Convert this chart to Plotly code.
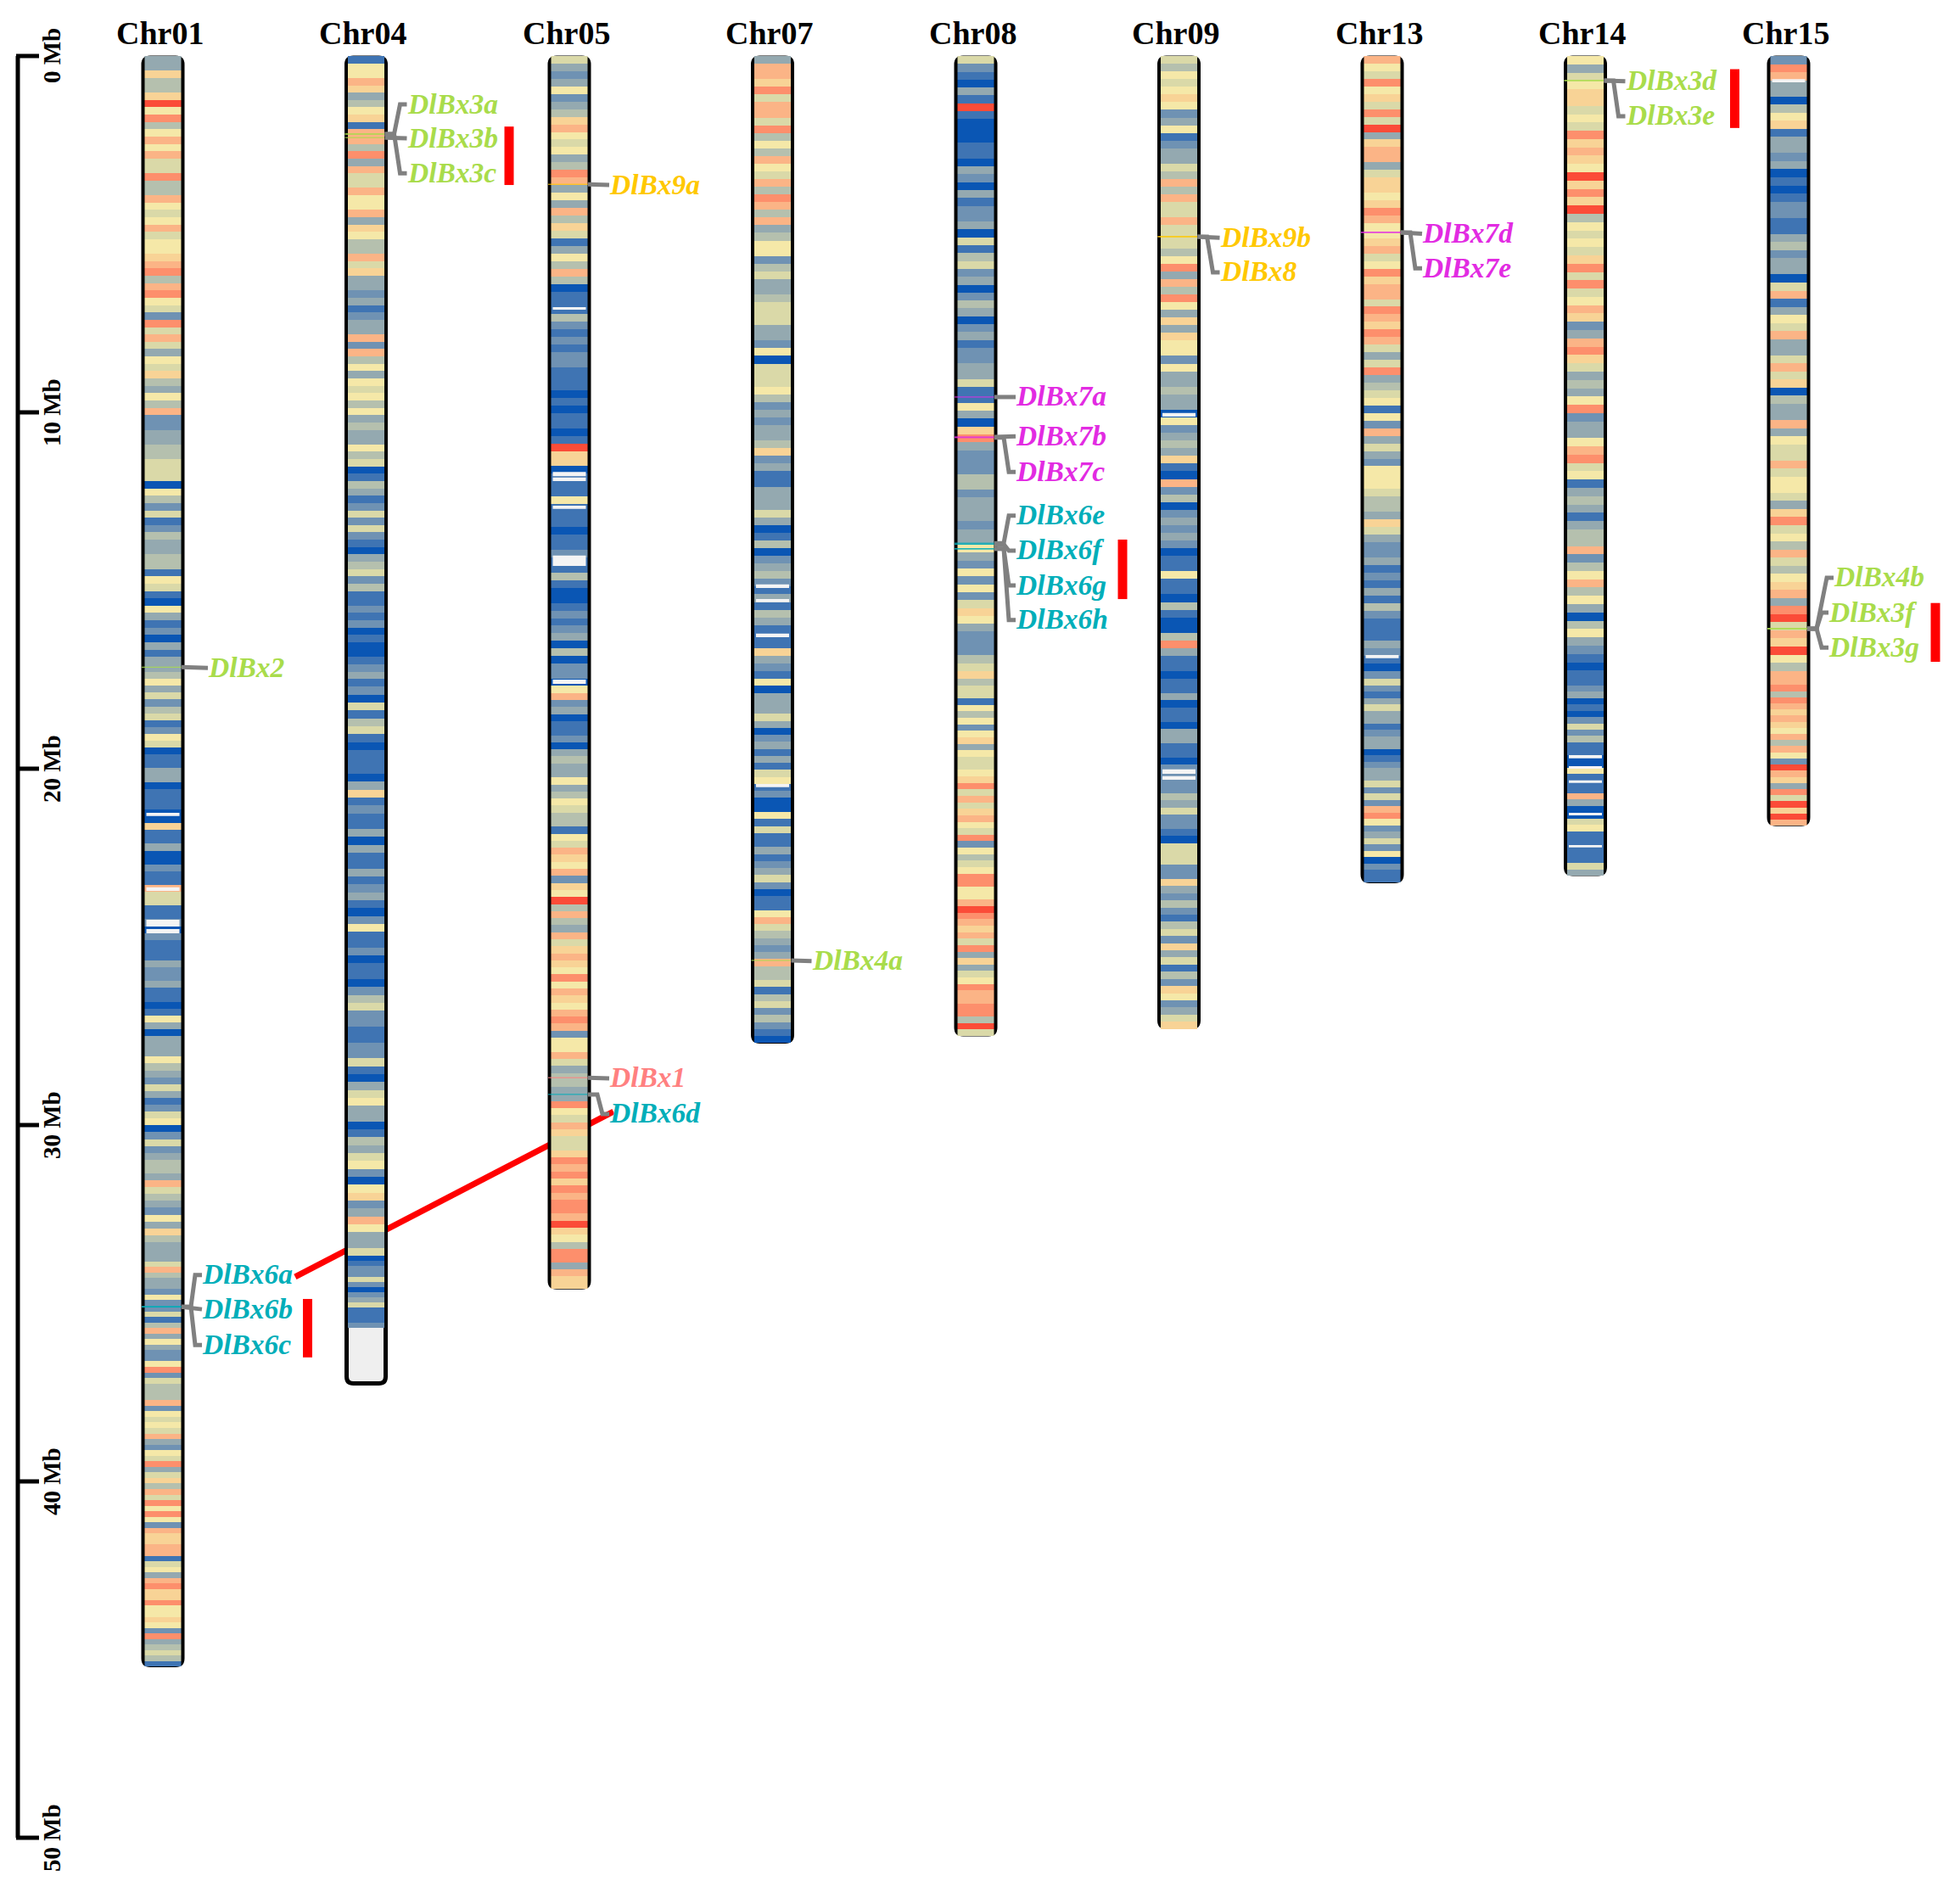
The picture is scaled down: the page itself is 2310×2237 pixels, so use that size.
import numpy as np
import plotly.graph_objects as go

chromosomes = ["Chr01","Chr04","Chr05","Chr07","Chr08","Chr09","Chr13","Chr14","Chr15"]
lengths = [45.2,37.3,34.6,27.7,27.5,27.3,23.2,23.0,21.6]
data_ends = [45.2,35.7,34.6,27.7,27.5,27.3,23.2,23.0,21.6]
break_a = 17.48
break_b = 33.67

chr01_a = [3,3,7,4,4,7,10,6,9,4,6,8,6,8,5,5,9,4,4,8,6,5,6,8,5,6,6,7,8,9,4,8,9,6,5,2,9,5,8,5,3,6,5,7,4,3,6,4,8,2,2,3,3,4,4,5,5,5,0,6,4,2,5,1,2,4,3,3,4,4,1,6,5,1,0,6,3,1,2,0,3,1,3,3,4]
chr01_b = [6,3,5,2,4,5,1,2,6,5,0,1,1,3,3,0,1,1,1,0,0,7,1,1,3,0,0,2,1,1,8,5,5,1,1,2,0,2,1,1,1,3,2,2,3,1,1,0,1,6,3,0,3,3,3,6,4,3,2,5,3,1,2,5,6,0,2,5,2,3,4,4,3,8,5,4,3,2,6,3,7,4,3,3]
chr01_c = [3,5,8,4,3,3,2,6,2,2,5,1,4,8,3,6,3,2,2,6,9,2,5,4,4,4,8,2,6,5,6,5,8,3,2,6,5,9,3,5,7,4,8,5,9,6,9,6,2,8,7,7,8,8,1,5,6,3,8,9,7,7,9,6,6,7,6,2,9,3,4,5,4,1]
chr04_a = [1,6,6,8,7,3,4,6,7,1,8,8,4,9,3,8,5,5,8,6,6,8,3,7,6,4,4,8,5,7,3,3,2,3,1,2,3,3,8,2,8,4,6,3,6,5,6,4,6,3,4,3,3,6,4,5,0,1,4,3,1,2,5,2,5,2,1,0,3,4,5,2,4,1,1,2,1,2,0,1,0,0,1,2,3]
chr04_b = [1,2,0,5,1,4,5,1,0,1,1,1,0,3,7,1,2,1,1,3,0,3,1,1,3,1,2,3,1,0,2,6,1,1,2,0,1,1,0,2,4,5,2,2,1,1,2,2,5,1,0,3,5,6,3,3,0,1,4,3,5,6,2,0,6,7,2,3,8,6,3,3,5]
chr04_c = [0,1,2,2,5,2,0,2,3,5,1,1,1,2]
chr05_a = [5,3,2,3,6,2,3,4,7,8,6,5,6,3,4,9,8,3,6,3,8,4,7,5,1,3,6,4,8,4,0,1,1,1,4,2,1,2,1,2,2,1,1,1,0,1,0,1,1,0,1,10,7,7,0,1,1,1,6,1,1,1,0,1,1,2,1,1,4,1,0,0,1,2,1,2,3,0,4,0,2,2]
chr05_b = [0,6,8,2,3,0,1,1,2,0,3,4,3,3,6,3,4,6,5,4,4,1,6,5,8,7,6,8,2,7,6,10,4,8,4,3,8,5,7,8,7,6,9,6,8,7,6,8,9,8,2,6,6,8,5,3,4,4,3,3,9,6,5,8,7,5,5,7,9,8,9,7,9,8,9,9,8,10,7,6,4,9]
chr05_c = [9,3,8,7,7]
chr07_a = [3,8,8,7,9,5,8,8,5,9,4,6,4,8,6,5,8,4,9,8,4,8,3,4,6,6,2,4,5,3,3,4,5,5,5,3,3,2,6,0,5,5,5,6,4,2,3,2,3,3,4,7,2,3,1,1,3,3,3,5,3,0,1,4,0,2,3,4,2,1,3,1,4,3,1,1,1,7,3,2,1]
chr07_b = [6,0,3,3,3,5,3,0,2,3,1,3,1,5,6,1,2,0,0,6,1,5,1,1,3,1,2,3,5,2,0,1,1,6,8,5,4,3,2,3,8,4,4,5,1,4,5,2,4,2,1,0]
chr08_a = [5,2,1,0,3,1,10,1,0,0,0,1,1,0,3,2,0,3,1,2,2,3,0,5,1,4,5,2,3,0,2,4,3,0,2,3,1,2,2,3,3,5,1,1,6,3,0,7,9,3,2,2,2,4,4,2,3,3,3,2,3,3,6,3,2,6,2,6,2,5,7,6,3,2,2,2,4,5,7]
chr08_b = [4,5,5,1,6,4,6,2,6,7,3,6,5,5,6,7,9,5,8,5,7,8,6,5,9,2,6,4,5,6,9,9,6,6,8,10,9,8,7,8,5,9,3,7,3,5,6,9,8,8,9,9,4,10,5]
chr09_a = [5,4,6,5,6,7,6,2,3,6,1,2,3,3,5,4,8,4,8,5,5,8,5,5,5,4,6,9,3,8,4,9,6,3,7,3,7,6,6,2,6,3,3,4,3,3,0,6,2,3,4,3,7,1,0,8,2,4,0,2,3,2,3,2,0,1,1,6,1,1,0,4,1,0,0,4,9,3,1,1,0]
chr09_b = [1,1,3,0,1,1,0,3,3,1,1,0,2,2,2,2,4,3,5,2,2,1,0,5,5,5,2,2,7,3,2,4,2,1,4,5,2,7,3,5,1,4,2,7,6,2,3,5,7]
chr13_a = [8,6,5,9,6,7,5,9,5,10,3,7,8,8,3,5,7,7,6,7,9,8,6,6,7,8,5,6,9,7,8,8,5,9,8,7,9,8,5,3,5,9,3,4,5,6,1,6,2,8,3,5,3,2,6,6,6,5,4,4,3,7,5,3,2,2,3,1,2,1,3,1,4,2,1,1,1,3,2,1,0,2]
chr13_b = [5,2,1,3,5,3,3,1,2,3,3,0,1,2,3,3,5,2,5,2,8,9,6,2,3,5,2,6,0,2,1,1]
chr14_a = [6,3,5,6,7,7,5,6,5,9,7,8,7,6,10,7,9,7,10,4,6,5,6,5,7,9,5,9,5,6,8,7,2,3,8,9,7,5,3,4,3,6,9,2,3,3,6,8,9,5,6,1,3,4,3,1,3,4,4,8,2,4,6,8,4,6,3,0,4,6,3,2,1,0,1]
chr14_b = [1,2,3,0,1,0,2,5,2,4,1,1,0,0,6,1,1,1,8,3,0,0,5,6,1,1,1,1,1,5,3]
chr15_a = [2,9,8,3,3,0,4,6,7,1,3,3,2,3,0,1,0,1,2,2,1,1,3,4,2,3,3,0,5,8,1,3,6,5,8,3,3,5,8,5,7,0,4,3,3,8,3,6,5,5,8,5,6,6,5,3,7,9,5,6,4,8,5,4,6,7,8,3,9,10,5,8,7,10,6,4,8]
chr15_b = [8,9,4,9,8,7,8,7,6,8,4,8,6,2,10,8,7,3,9,5,10,7,10,8]

segments = [
    [chr01_a,chr01_b,chr01_c],[chr04_a,chr04_b,chr04_c],[chr05_a,chr05_b,chr05_c],
    [chr07_a,chr07_b],[chr08_a,chr08_b],[chr09_a,chr09_b],
    [chr13_a,chr13_b],[chr14_a,chr14_b],[chr15_a,chr15_b],
]

gap_chr = [0,0,0,0, 2,2,2,2,2,2, 3,3,3,3, 5,5,5, 6, 7,7,7,7,7, 8]
gap_start = [21.24,23.33,24.24,24.5, 7.05,11.67,11.83,12.62,14.02,17.5, 14.83,15.24,16.21,20.43, 10.02,20.02,20.21, 16.81, 19.62,19.93,20.33,21.24,22.14, 0.65]
gap_end = [21.33,23.43,24.43,24.62, 7.12,11.79,11.93,12.71,14.31,17.62, 14.93,15.33,16.31,20.52, 10.12,20.14,20.31, 16.9, 19.71,20.0,20.4,21.31,22.21, 0.74]

gene_names = ["DlBx2","DlBx6a","DlBx6b","DlBx6c","DlBx3a","DlBx3b","DlBx3c","DlBx9a","DlBx1","DlBx6d","DlBx4a",
              "DlBx7a","DlBx7b","DlBx7c","DlBx6e","DlBx6f","DlBx6g","DlBx6h","DlBx9b","DlBx8","DlBx7d","DlBx7e",
              "DlBx3d","DlBx3e","DlBx4b","DlBx3f","DlBx3g"]
gene_chr = [0,0,0,0,1,1,1,2,2,2,3,4,4,4,4,4,4,4,5,5,6,6,7,7,8,8,8]
gene_mb = [17.15,35.1,35.1,35.1,2.19,2.29,2.19,3.6,28.67,29.14,25.38,9.57,10.69,10.71,13.67,13.7,13.83,13.83,5.07,5.07,4.95,4.95,0.69,0.69,16.07,16.07,16.07]
label_mb = [17.17,34.21,35.17,36.17,1.36,2.31,3.29,3.62,28.69,29.69,25.4,9.57,10.67,11.67,12.9,13.88,14.86,15.83,5.1,6.07,4.99,5.96,0.71,1.69,14.64,15.62,16.6]
gene_colors = ["#A9DC4B","#00AEB9","#00AEB9","#00AEB9","#A9DC4B","#A9DC4B","#A9DC4B","#FFC800","#FF8080","#00AEB9","#A9DC4B",
               "#E22BE2","#E22BE2","#E22BE2","#00AEB9","#00AEB9","#00AEB9","#00AEB9","#FFC800","#FFC800","#E22BE2","#E22BE2",
               "#A9DC4B","#A9DC4B","#A9DC4B","#A9DC4B","#A9DC4B"]
label_offset = [30,23,23,23,25,25,25,24,24,24,23,24,24,24,24,24,24,24,25,25,24,24,24,24,30,24,24]

tandem_chr = [0,1,4,7,8]
tandem_offset_px = [170.5,168.5,173,176,173]
tandem_top = [34.88,1.98,13.57,0.37,15.35]
tandem_bottom = [36.52,3.62,15.24,2.02,17.0]
segdup_x = [0.651,2.217]
segdup_mb = [34.26,29.62]

tick_mb = [0,10,20,30,40,50]
tick_labels = ["%d Mb"%v for v in tick_mb]

palette = ["#0A56B4","#3F74B3","#6F92B3","#94A9B0","#B5C0AE","#DAD9A8","#F5E8A8","#F8D396","#FBB486","#FD8F6C","#FB4C38"]

W, H = 2310, 2237
X0, SP = 192.0, 239.5
TOP, PXMB = 66.0, 42.0
px = lambda p: p / SP
abs_x = lambda p: (p - X0) / SP

cs = []
for i, c in enumerate(palette):
    cs += [[i/len(palette), c], [(i+1)/len(palette), c]]

fig = go.Figure()
shapes = [dict(type="line", xref="x", yref="y", x0=segdup_x[0], x1=segdup_x[1], y0=segdup_mb[0], y1=segdup_mb[1],
               line=dict(color="#FF0000", width=7), layer="below")]
r = 8.0
inset = 2.0 / PXMB
for i, name in enumerate(chromosomes):
    breaks = [0, break_a, break_b, data_ends[i]] if len(segments[i]) == 3 else [0, break_a, data_ends[i]]
    edges, vals = [0.0], []
    for k, seg in enumerate(segments[i]):
        e = np.linspace(breaks[k], breaks[k+1], len(seg)+1)
        edges += list(e[1:])
        vals += seg
    hw = px(21.5)
    fig.add_trace(go.Heatmap(x=[i-hw, i+hw], y=edges, z=[[v] for v in vals], colorscale=cs, zmin=-0.5, zmax=10.5,
                             showscale=False, hoverinfo="skip"))
    o = px(23); rx = px(r); ry = r/PXMB
    T = inset; L = lengths[i] - inset
    path = (f"M{i-o},{T+ry} Q{i-o},{T} {i-o+rx},{T} L{i+o-rx},{T} Q{i+o},{T} {i+o},{T+ry} "
            f"L{i+o},{L-ry} Q{i+o},{L} {i+o-rx},{L} L{i-o+rx},{L} Q{i-o},{L} {i-o},{L-ry} Z")
    shapes.append(dict(type="path", path=path, xref="x", yref="y", fillcolor="#EFEFEF",
                       line=dict(color="black", width=5), layer="below"))
    fig.add_annotation(x=i-px(4), xref="x", y=(39-TOP)/PXMB, yref="y", text=f"<b>{name}</b>", showarrow=False,
                       xanchor="center", yanchor="middle", font=dict(family="Liberation Serif", size=38, color="black"))

for c, a, b in zip(gap_chr, gap_start, gap_end):
    shapes.append(dict(type="rect", xref="x", yref="y", x0=c-px(19.5), x1=c+px(19.5), y0=a, y1=b,
                       fillcolor="#F4F4F4", line=dict(width=0), layer="above"))

for k, n in enumerate(gene_names):
    c = gene_chr[k]; g = gene_mb[k]; l = label_mb[k]; off = label_offset[k]
    edge = c + px(25)
    fig.add_trace(go.Scatter(x=[c-px(25), c+px(21.5)], y=[g, g], mode="lines", line=dict(color=gene_colors[k], width=1),
                             hoverinfo="skip", showlegend=False))
    xs = [edge-px(3), edge+px(8), edge+px(off-10), edge+px(off-2)] if abs(g-l) > 0.1 else [edge-px(3), edge+px(off-2)]
    ys = [g, g, l, l] if abs(g-l) > 0.1 else [g, l]
    fig.add_trace(go.Scatter(x=xs, y=ys, mode="lines", line=dict(color="#808080", width=5), hoverinfo="skip", showlegend=False))
    fig.add_annotation(x=edge+px(off-4), y=l, xref="x", yref="y", yshift=1, text=f"<b><i>{n}</i></b>", showarrow=False,
                       xanchor="left", yanchor="middle", font=dict(family="Liberation Serif", size=33.5, color=gene_colors[k]))

for c, o, t, b in zip(tandem_chr, tandem_offset_px, tandem_top, tandem_bottom):
    shapes.append(dict(type="rect", xref="x", yref="y", x0=c+px(o-5.5), x1=c+px(o+5.5), y0=t, y1=b,
                       fillcolor="#FF0000", line=dict(width=0), layer="above"))

fig.add_trace(go.Scatter(x=[abs_x(21), abs_x(21)], y=[tick_mb[0], tick_mb[-1]], mode="lines",
                         line=dict(color="black", width=5), hoverinfo="skip", showlegend=False))
for v, t in zip(tick_mb, tick_labels):
    fig.add_trace(go.Scatter(x=[abs_x(19), abs_x(46)], y=[v, v], mode="lines", line=dict(color="black", width=5),
                             hoverinfo="skip", showlegend=False))
    fig.add_annotation(x=abs_x(61), y=v, xref="x", yref="y", text=f"<b>{t}</b>", showarrow=False, textangle=-90,
                       xanchor="center", yanchor="middle", font=dict(family="Liberation Serif", size=29, color="black"))

fig.update_layout(
    width=W, height=H, margin=dict(l=0, r=0, t=0, b=0, pad=0),
    plot_bgcolor="white", paper_bgcolor="white", showlegend=False, shapes=shapes,
    xaxis=dict(range=[abs_x(0), abs_x(W)], visible=False, fixedrange=True),
    yaxis=dict(range=[(H-TOP)/PXMB, -TOP/PXMB], visible=False, fixedrange=True),
)
fig.write_html("out.html", post_script="document.body.style.margin='0';", config=dict(displayModeBar=False))
